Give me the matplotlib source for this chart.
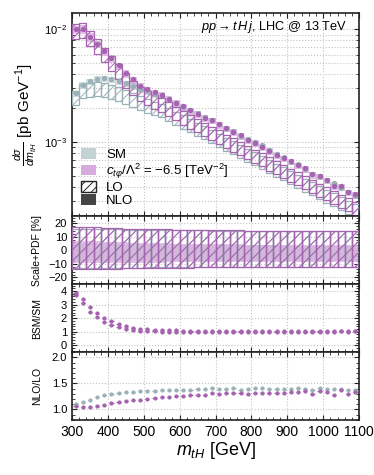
import matplotlib
matplotlib.use("Agg")
import matplotlib.pyplot as plt
import numpy as np
from matplotlib.patches import Patch
from matplotlib.ticker import MultipleLocator, AutoMinorLocator, LogLocator, NullFormatter

plt.rcParams['font.family'] = ['Liberation Sans', 'DejaVu Sans']
plt.rcParams['mathtext.fontset'] = 'custom'
plt.rcParams['mathtext.rm'] = 'Liberation Sans'
plt.rcParams['mathtext.it'] = 'Liberation Sans:italic'
plt.rcParams['mathtext.bf'] = 'Liberation Sans:bold'
plt.rcParams['hatch.linewidth'] = 0.7

# m_tH bins, 20 GeV wide
edges = np.arange(300, 1101, 20)

# SM LO differential cross section [pb/GeV]
sm_lo = [2.48e-3, 2.85e-3, 2.92e-3, 2.97e-3, 2.92e-3, 2.80e-3, 2.67e-3, 2.51e-3,
         2.37e-3, 2.22e-3, 2.09e-3, 1.98e-3, 1.90e-3, 1.76e-3, 1.63e-3, 1.51e-3,
         1.40e-3, 1.30e-3, 1.21e-3, 1.12e-3, 1.04e-3, 9.6e-4, 8.9e-4, 8.25e-4,
         7.65e-4, 7.1e-4, 6.6e-4, 6.1e-4, 5.65e-4, 5.25e-4, 4.85e-4, 4.5e-4,
         4.15e-4, 3.85e-4, 3.58e-4, 3.32e-4, 3.08e-4, 2.85e-4, 2.65e-4, 2.46e-4]

# BSM/SM at LO
ratio_lo = [3.83, 3.40, 2.83, 2.38, 2.03, 1.78, 1.58, 1.40, 1.28, 1.20, 1.18, 1.15,
            1.13, 1.11, 1.10, 1.09, 1.08, 1.08, 1.07, 1.07, 1.07, 1.06, 1.06, 1.06,
            1.06, 1.06, 1.06, 1.05, 1.05, 1.05, 1.05, 1.05, 1.05, 1.05, 1.05, 1.05,
            1.05, 1.05, 1.05, 1.05]

# NLO/LO k-factors
k_sm = [1.10, 1.14, 1.19, 1.23, 1.27, 1.30, 1.32, 1.33, 1.34, 1.35, 1.355, 1.36,
        1.37, 1.37, 1.365, 1.37, 1.37, 1.39, 1.39, 1.41, 1.39, 1.39, 1.41, 1.38,
        1.39, 1.41, 1.42, 1.39, 1.39, 1.40, 1.39, 1.42, 1.40, 1.37, 1.41, 1.39,
        1.40, 1.39, 1.38, 1.37]
k_bsm = [1.06, 1.05, 1.045, 1.06, 1.09, 1.12, 1.14, 1.17, 1.19, 1.19, 1.20, 1.22,
         1.23, 1.245, 1.25, 1.265, 1.27, 1.28, 1.28, 1.32, 1.30, 1.32, 1.32, 1.32,
         1.30, 1.32, 1.31, 1.32, 1.31, 1.32, 1.34, 1.34, 1.35, 1.29, 1.35, 1.34,
         1.27, 1.37, 1.30, 1.34]

# scale+PDF uncertainties [%]
bsm_lo_up = [17.5, 17.3, 17.1, 16.9, 16.7, 16.5, 16.3, 16.1, 16.0, 15.8, 15.7, 15.6,
             15.5, 15.4, 15.3, 15.2, 15.1, 15.0, 15.0, 14.9, 14.8, 14.8, 14.7, 14.7,
             14.6, 14.6, 14.5, 14.5, 14.5, 14.4, 14.4, 14.4, 14.3, 14.3, 14.3, 14.3,
             14.2, 14.2, 14.2, 14.2]
bsm_lo_dn = [-14.0, -13.9, -13.8, -13.7, -13.6, -13.5, -13.4, -13.3, -13.2, -13.1,
             -13.0, -12.9, -12.9, -12.8, -12.8, -12.7, -12.7, -12.6, -12.6, -12.5,
             -12.5, -12.5, -12.4, -12.4, -12.4, -12.3, -12.3, -12.3, -12.2, -12.2,
             -12.2, -12.2, -12.1, -12.1, -12.1, -12.1, -12.0, -12.0, -12.0, -12.0]
sm_lo_up = [16.0, 15.9, 15.8, 15.7, 15.6, 15.5, 15.4, 15.3, 15.2, 15.1, 15.0, 15.0,
            14.9, 14.9, 14.8, 14.8, 14.7, 14.7, 14.7, 14.6, 14.6, 14.6, 14.5, 14.5,
            14.5, 14.5, 14.4, 14.4, 14.4, 14.4, 14.4, 14.3, 14.3, 14.3, 14.3, 14.3,
            14.3, 14.3, 14.3, 14.3]
sm_lo_dn = [-13.2, -13.1, -13.0, -13.0, -12.9, -12.9, -12.8, -12.8, -12.7, -12.7,
            -12.6, -12.6, -12.5, -12.5, -12.5, -12.4, -12.4, -12.4, -12.3, -12.3,
            -12.3, -12.3, -12.2, -12.2, -12.2, -12.2, -12.2, -12.1, -12.1, -12.1,
            -12.1, -12.1, -12.1, -12.0, -12.0, -12.0, -12.0, -12.0, -12.0, -12.0]
bsm_nlo_up = [7.2, 7.0, 6.8, 6.6, 6.4, 6.2, 6.0, 5.8, 5.6, 5.5, 5.4, 5.3, 5.2, 5.1,
              5.0, 4.9, 4.8, 4.7, 4.7, 4.6, 4.5, 4.5, 4.4, 4.4, 4.3, 4.3, 4.2, 4.2,
              4.2, 4.1, 4.1, 4.1, 4.0, 4.0, 4.0, 4.0, 4.0, 4.0, 4.0, 4.0]
bsm_nlo_dn = [-9.5, -9.5, -9.4, -9.4, -9.3, -9.3, -9.2, -9.2, -9.1, -9.1, -9.0, -9.0,
              -9.0, -8.9, -8.9, -8.9, -8.9, -8.8, -8.8, -8.8, -8.8, -8.7, -8.7, -8.7,
              -8.7, -8.7, -8.6, -8.6, -8.6, -8.6, -8.6, -8.6, -8.5, -8.5, -8.5, -8.5,
              -8.5, -8.5, -8.5, -8.5]
sm_nlo_up = [5.5, 5.4, 5.3, 5.2, 5.1, 5.0, 4.9, 4.8, 4.7, 4.6, 4.5, 4.4, 4.4, 4.3,
             4.2, 4.2, 4.1, 4.0, 4.0, 3.9, 3.9, 3.8, 3.8, 3.8, 3.7, 3.7, 3.7, 3.6,
             3.6, 3.6, 3.6, 3.5, 3.5, 3.5, 3.5, 3.5, 3.5, 3.5, 3.5, 3.5]
sm_nlo_dn = [-8.0, -8.0, -8.0, -7.9, -7.9, -7.9, -7.8, -7.8, -7.8, -7.8, -7.7, -7.7,
             -7.7, -7.7, -7.7, -7.6, -7.6, -7.6, -7.6, -7.6, -7.6, -7.6, -7.5, -7.5,
             -7.5, -7.5, -7.5, -7.5, -7.5, -7.5, -7.5, -7.5, -7.5, -7.5, -7.5, -7.5,
             -7.5, -7.5, -7.5, -7.5]

sm_col, sm_fill = '#9ab1b8', '#c3d2d5'
bsm_col, bsm_fill = '#a563b0', '#d6acdc'
bw = 20

x = 0.5 * (edges[:-1] + edges[1:])
sm_lo = np.array(sm_lo)
bsm_lo = sm_lo * np.array(ratio_lo)
sm_nlo = sm_lo * np.array(k_sm)
bsm_nlo = bsm_lo * np.array(k_bsm)

fig = plt.figure(figsize=(3.74, 4.75), dpi=100)
gs = fig.add_gridspec(4, 1, height_ratios=[3, 1, 1, 1], hspace=0,
                      left=0.1925, right=0.96, top=0.9726, bottom=0.116)
ax0 = fig.add_subplot(gs[0])
ax1 = fig.add_subplot(gs[1], sharex=ax0)
ax2 = fig.add_subplot(gs[2], sharex=ax0)
ax3 = fig.add_subplot(gs[3], sharex=ax0)


def bands(ax, cen, lo_up, lo_dn, nlo_cen, nlo_up, nlo_dn, col, fill, rel=False):
    lo_up = np.array(lo_up); lo_dn = np.array(lo_dn)
    nlo_up = np.array(nlo_up); nlo_dn = np.array(nlo_dn)
    if rel:
        lo_hi, lo_lo = lo_up, lo_dn
        n_hi, n_lo = nlo_up, nlo_dn
    else:
        lo_hi, lo_lo = cen * (1 + lo_up / 100), cen * (1 + lo_dn / 100)
        n_hi, n_lo = nlo_cen * (1 + nlo_up / 100), nlo_cen * (1 + nlo_dn / 100)
    ax.bar(x, n_hi - n_lo, bottom=n_lo, width=bw, color=fill, alpha=0.75,
           edgecolor='none', zorder=2)
    ax.bar(x, lo_hi - lo_lo, bottom=lo_lo, width=bw, fill=False, hatch='///',
           edgecolor=col, linewidth=0.9, zorder=3)


# main panel
bands(ax0, sm_lo, sm_lo_up, sm_lo_dn, sm_nlo, sm_nlo_up, sm_nlo_dn, sm_col, sm_fill)
ax0.plot(x, sm_nlo, 'o', ms=2.8, color=sm_col, zorder=4)
bands(ax0, bsm_lo, bsm_lo_up, bsm_lo_dn, bsm_nlo, bsm_nlo_up, bsm_nlo_dn, bsm_col, bsm_fill)
ax0.plot(x, bsm_nlo, 'o', ms=2.8, color=bsm_col, zorder=4)
ax0.set_yscale('log')
ax0.set_ylim(2.2e-4, 1.4e-2)
ax0.set_ylabel(r'$\frac{d\sigma}{dm_{tH}}$ [pb GeV$^{-1}$]', fontsize=11)
ax0.yaxis.set_label_coords(-0.115, 0.5)
ax0.text(0.96, 0.93, r'$pp \to t\,H\,j$, LHC @ 13 TeV', transform=ax0.transAxes,
         ha='right', va='center', fontsize=9.2)
ax0.yaxis.set_minor_locator(LogLocator(base=10, subs=np.arange(2, 10)))
ax0.yaxis.set_minor_formatter(NullFormatter())

handles = [Patch(facecolor=sm_fill, edgecolor='none'),
           Patch(facecolor=bsm_fill, edgecolor='none'),
           Patch(facecolor='white', edgecolor='#222222', hatch='////'),
           Patch(facecolor='#444444', edgecolor='none')]
labels = ['SM', r'$c_{t\varphi}/\Lambda^2$ = $-6.5$ [TeV$^{-2}$]', 'LO', 'NLO']
ax0.legend(handles, labels, loc='lower left', bbox_to_anchor=(0.0, 0.0),
           frameon=False, fontsize=9.5, handlelength=1.1, handleheight=0.9,
           labelspacing=0.02, handletextpad=0.8, borderaxespad=0.3)

# scale + PDF panel
bands(ax1, None, sm_lo_up, sm_lo_dn, None, sm_nlo_up, sm_nlo_dn, sm_col, sm_fill, rel=True)
bands(ax1, None, bsm_lo_up, bsm_lo_dn, None, bsm_nlo_up, bsm_nlo_dn, bsm_col, bsm_fill, rel=True)
ax1.set_ylim(-25, 25)
ax1.set_yticks([-20, -10, 0, 10, 20])
ax1.set_ylabel('Scale+PDF [%]', fontsize=7.5)

# BSM/SM panel
ratio_nlo = bsm_nlo / sm_nlo
ax2.errorbar(x, ratio_lo, xerr=6, yerr=0.06, fmt='o', ms=2, color=bsm_col,
             elinewidth=0.9, capsize=0, zorder=3)
ax2.errorbar(x, ratio_nlo, xerr=6, yerr=0.06, fmt='o', ms=2, color=bsm_col,
             elinewidth=0.9, capsize=0, zorder=3)
ax2.set_ylim(-0.5, 4.5)
ax2.set_yticks([0, 1, 2, 3, 4])
ax2.set_ylabel('BSM/SM', fontsize=7.5)

# NLO/LO panel
ax3.errorbar(x, k_sm, xerr=6, yerr=0.012, fmt='o', ms=2, color=sm_col,
             elinewidth=0.9, capsize=0, zorder=3)
ax3.errorbar(x, k_bsm, xerr=6, yerr=0.012, fmt='o', ms=2, color=bsm_col,
             elinewidth=0.9, capsize=0, zorder=3)
ax3.set_ylim(0.8, 2.1)
ax3.set_yticks([1.0, 1.5, 2.0])
ax3.set_ylabel('NLO/LO', fontsize=7.5)
ax3.set_xlabel(r'$m_{tH}$ [GeV]', fontsize=13, labelpad=1)

ax3.set_xlim(300, 1100)
ax3.set_xticks(np.arange(300, 1101, 100))

for ax in (ax1, ax2, ax3):
    ax.yaxis.set_label_coords(-0.105, 0.5)
    ax.yaxis.set_minor_locator(AutoMinorLocator())

for ax in (ax0, ax1, ax2, ax3):
    ax.xaxis.set_minor_locator(MultipleLocator(20))
    ax.tick_params(which='both', direction='in', top=True, right=True,
                   labelsize=8, color='#222222')
    ax.tick_params(which='major', length=3.5, width=0.8)
    ax.tick_params(which='minor', length=2, width=0.6)
    ax.grid(True, which='major', ls=':', color='#c4c4c4', lw=0.8, zorder=0)
    ax.set_axisbelow(True)
    for s in ax.spines.values():
        s.set_linewidth(1.2)
        s.set_color('#222222')
    if ax is not ax3:
        ax.tick_params(labelbottom=False)
ax0.yaxis.grid(True, which='minor', ls=':', color='#c4c4c4', lw=0.8)
ax3.tick_params(axis='x', labelsize=10)

fig.savefig('out.png', dpi=100)
